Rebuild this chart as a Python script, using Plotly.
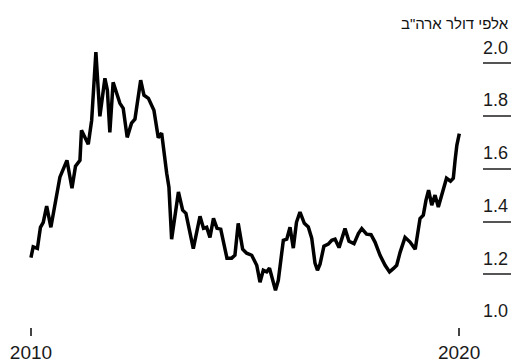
import plotly.graph_objects as go

# Price series, thousands of US dollars
dates = [
    "2010-01-01", "2010-01-20", "2010-02-25", "2010-03-23", "2010-04-16", "2010-05-15",
    "2010-06-20", "2010-07-24", "2010-09-05", "2010-11-04", "2010-12-17", "2011-01-16",
    "2011-02-23", "2011-03-08", "2011-05-05", "2011-06-03", "2011-07-09", "2011-08-12",
    "2011-09-24", "2011-10-15", "2011-11-05", "2011-12-03", "2011-12-26", "2012-01-30",
    "2012-02-27", "2012-04-01", "2012-05-08", "2012-06-06", "2012-07-25", "2012-08-22",
    "2012-09-29", "2012-11-15", "2012-12-22", "2013-01-20", "2013-03-04", "2013-03-23",
    "2013-04-15", "2013-05-14", "2013-06-12", "2013-07-18", "2013-08-15", "2013-10-17",
    "2013-12-13", "2014-01-12", "2014-02-08", "2014-03-08", "2014-04-07", "2014-05-07",
    "2014-06-08", "2014-07-31", "2014-09-09", "2014-10-07", "2014-11-04", "2014-12-12",
    "2015-01-15", "2015-02-27", "2015-04-11", "2015-05-09", "2015-06-06", "2015-07-05",
    "2015-07-29", "2015-09-18", "2015-10-12", "2015-11-24", "2015-12-23", "2016-01-20",
    "2016-02-17", "2016-03-15", "2016-04-14", "2016-05-21", "2016-06-24", "2016-07-23",
    "2016-08-20", "2016-09-10", "2016-10-02", "2016-11-04", "2016-12-11", "2017-01-10",
    "2017-02-07", "2017-03-13", "2017-05-03", "2017-06-06", "2017-07-19", "2017-08-25",
    "2017-09-23", "2017-11-03", "2017-12-11", "2018-01-14", "2018-02-26", "2018-04-10",
    "2018-05-18", "2018-06-21", "2018-07-18", "2018-08-16", "2018-09-27", "2018-11-09",
    "2018-12-23", "2019-02-02", "2019-03-02", "2019-03-25", "2019-04-16", "2019-05-13",
    "2019-06-10", "2019-07-08", "2019-08-06", "2019-09-16", "2019-10-20", "2019-11-13",
    "2019-11-28", "2019-12-13", "2020-01-03",
]
prices = [
    1.263, 1.304, 1.298, 1.378, 1.397, 1.458,
    1.378, 1.469, 1.568, 1.632, 1.526, 1.610,
    1.632, 1.746, 1.693, 1.784, 2.042, 1.799,
    1.943, 1.898, 1.738, 1.928, 1.898, 1.848,
    1.829, 1.719, 1.773, 1.788, 1.936, 1.879,
    1.867, 1.822, 1.718, 1.735, 1.583, 1.530,
    1.333, 1.431, 1.512, 1.443, 1.431, 1.297,
    1.420, 1.374, 1.378, 1.340, 1.412, 1.374,
    1.371, 1.261, 1.261, 1.272, 1.393, 1.295,
    1.280, 1.272, 1.234, 1.170, 1.215, 1.209,
    1.223, 1.139, 1.177, 1.329, 1.333, 1.378,
    1.299, 1.397, 1.436, 1.393, 1.379, 1.337,
    1.242, 1.215, 1.238, 1.306, 1.314, 1.329,
    1.333, 1.301, 1.373, 1.325, 1.316, 1.354,
    1.373, 1.352, 1.350, 1.322, 1.272, 1.234,
    1.209, 1.222, 1.234, 1.283, 1.340, 1.322,
    1.295, 1.411, 1.424, 1.481, 1.519, 1.462,
    1.500, 1.455, 1.496, 1.564, 1.553, 1.564,
    1.632, 1.689, 1.733,
]

x_tick_vals = ["2010-01-01", "2020-01-01"]
x_tick_text = ["2010", "2020"]
y_label_vals = [1.0, 1.2, 1.4, 1.6, 1.8, 2.0]
y_label_text = ["1.0", "1.2", "1.4", "1.6", "1.8", "2.0"]
y_rule_vals = [1.2, 1.4, 1.6, 1.8, 2.0]
unit_title = "אלפי דולר ארה\"ב"

FONT = "Liberation Sans, Arial, Helvetica, sans-serif"
Y_RANGE = [1.0, 2.164]

fig = go.Figure()
fig.add_trace(go.Scatter(
    x=dates, y=prices, mode="lines",
    line=dict(color="#000000", width=3.5),
    hoverinfo="skip", showlegend=False,
))
# invisible trace so the label axis is drawn
fig.add_trace(go.Scatter(
    x=[dates[0]], y=[prices[0]], yaxis="y2", mode="markers",
    marker=dict(opacity=0), hoverinfo="skip", showlegend=False,
))

fig.update_layout(
    width=513, height=363,
    margin=dict(l=0, r=2, t=20, b=36),
    paper_bgcolor="white", plot_bgcolor="white",
    font=dict(family=FONT, color="#1a1a1a"),
    xaxis=dict(
        range=["2009-04-12", "2021-03-19"],
        tickvals=x_tick_vals, ticktext=x_tick_text,
        ticks="outside", ticklen=8, tickwidth=1.5, tickcolor="#444444",
        showgrid=False, zeroline=False, showline=False,
        tickfont=dict(size=19, color="#1a1a1a"),
    ),
    yaxis=dict(
        range=Y_RANGE, side="right",
        tickvals=y_rule_vals, showticklabels=False,
        ticks="inside", ticklen=28, tickwidth=2, tickcolor="#555555",
        showgrid=False, zeroline=False, showline=False,
    ),
    yaxis2=dict(
        range=Y_RANGE, side="right", overlaying="y",
        tickvals=y_label_vals, ticktext=y_label_text,
        ticks="", ticklabelposition="inside", ticklabelshift=-16,
        showgrid=False, zeroline=False, showline=False,
        tickfont=dict(size=18, color="#1a1a1a"),
    ),
    annotations=[dict(
        text=unit_title, xref="paper", yref="paper",
        x=1.0, y=1.0, xanchor="right", yanchor="middle", yshift=-3,
        showarrow=False, font=dict(size=15, color="#111111", family=FONT),
    )],
)

fig.write_html("out.html")
